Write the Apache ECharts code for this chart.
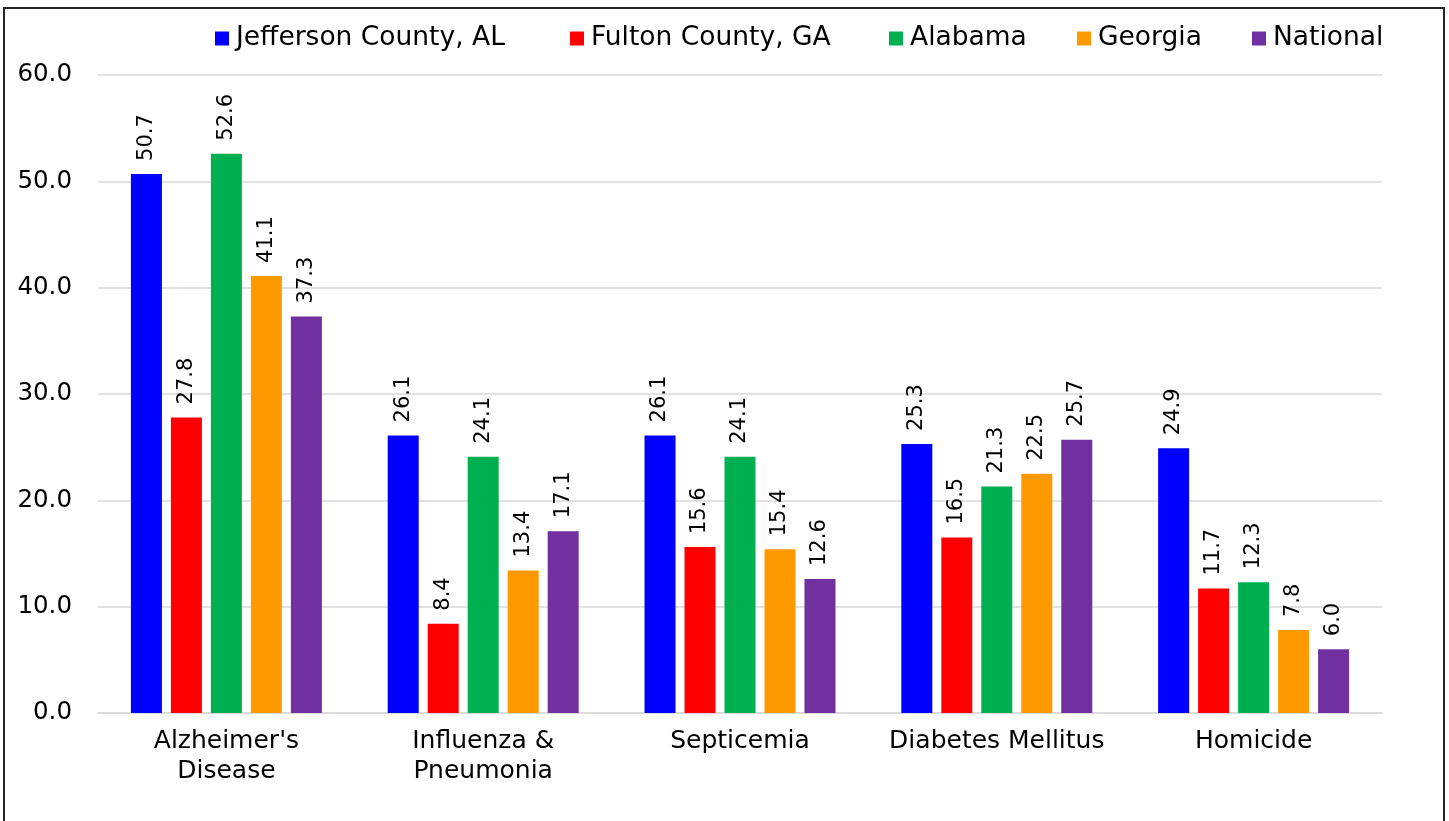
<!DOCTYPE html>
<html>
<head>
<meta charset="utf-8">
<script src="https://cdn.jsdelivr.net/npm/echarts@6/dist/echarts.min.js"></script>
<style>
html,body{margin:0;padding:0;background:#fff;}
#chart{width:1449px;height:821px;}
</style>
</head>
<body>
<div id="chart"></div>
<script>
const categories = ["Alzheimer's\nDisease", "Influenza &\nPneumonia", "Septicemia", "Diabetes Mellitus", "Homicide"];
const seriesNames = ["Jefferson County, AL", "Fulton County, GA", "Alabama", "Georgia", "National"];
const jefferson = [50.7, 26.1, 26.1, 25.3, 24.9];
const fulton = [27.8, 8.4, 15.6, 16.5, 11.7];
const alabama = [52.6, 24.1, 24.1, 21.3, 12.3];
const georgia = [41.1, 13.4, 15.4, 22.5, 7.8];
const national = [37.3, 17.1, 12.6, 25.7, 6.0];
const yTicks = [0, 10, 20, 30, 40, 50, 60];

const values = [jefferson, fulton, alabama, georgia, national];
const colors = ['#0000FF', '#FF0000', '#00B050', '#FF9900', '#7030A0'];
const legendLeft = [215, 570, 889, 1077, 1252];
const FONT = '"DejaVu Sans", Verdana, sans-serif';

const chart = echarts.init(document.getElementById('chart'));
const option = {
  animation: false,
  backgroundColor: '#ffffff',
  textStyle: { fontFamily: FONT, color: '#000' },
  graphic: [{
    type: 'rect',
    shape: { x: 4, y: 8, width: 1440, height: 900 },
    style: { fill: 'none', stroke: '#262626', lineWidth: 2 },
    silent: true
  }],
  legend: seriesNames.map((n, i) => ({
    data: [n],
    left: legendLeft[i],
    top: 25,
    padding: 0,
    icon: 'rect',
    itemWidth: 14,
    itemHeight: 14,
    itemGap: 0,
    selectedMode: false,
    textStyle: { fontFamily: FONT, fontSize: 26.5, color: '#000', padding: [0, 0, 0, 2] }
  })),
  grid: { left: 98, right: 67, top: 75, bottom: 108, containLabel: false },
  xAxis: {
    type: 'category',
    data: categories,
    axisLine: { show: true, lineStyle: { color: '#d9d9d9', width: 1.5 } },
    axisTick: { show: false },
    axisLabel: { fontFamily: FONT, fontSize: 25, color: '#000', margin: 13, lineHeight: 30, interval: 0 }
  },
  yAxis: {
    type: 'value',
    min: yTicks[0],
    max: yTicks[yTicks.length - 1],
    interval: 10,
    axisLine: { show: false },
    axisTick: { show: false },
    splitLine: { show: true, lineStyle: { color: '#d9d9d9', width: 1.5 } },
    axisLabel: { fontFamily: FONT, fontSize: 24.5, color: '#000', margin: 26, formatter: v => v.toFixed(1) }
  },
  series: seriesNames.map((n, i) => ({
    name: n,
    type: 'bar',
    data: values[i],
    barWidth: 31,
    barGap: '29%',
    itemStyle: { color: colors[i] },
    label: {
      show: true,
      position: 'top',
      rotate: 90,
      align: 'left',
      verticalAlign: 'middle',
      distance: 13,
      fontFamily: FONT,
      fontSize: 21,
      color: '#000',
      formatter: p => p.value.toFixed(1)
    }
  }))
};
chart.setOption(option);
</script>
</body>
</html>
